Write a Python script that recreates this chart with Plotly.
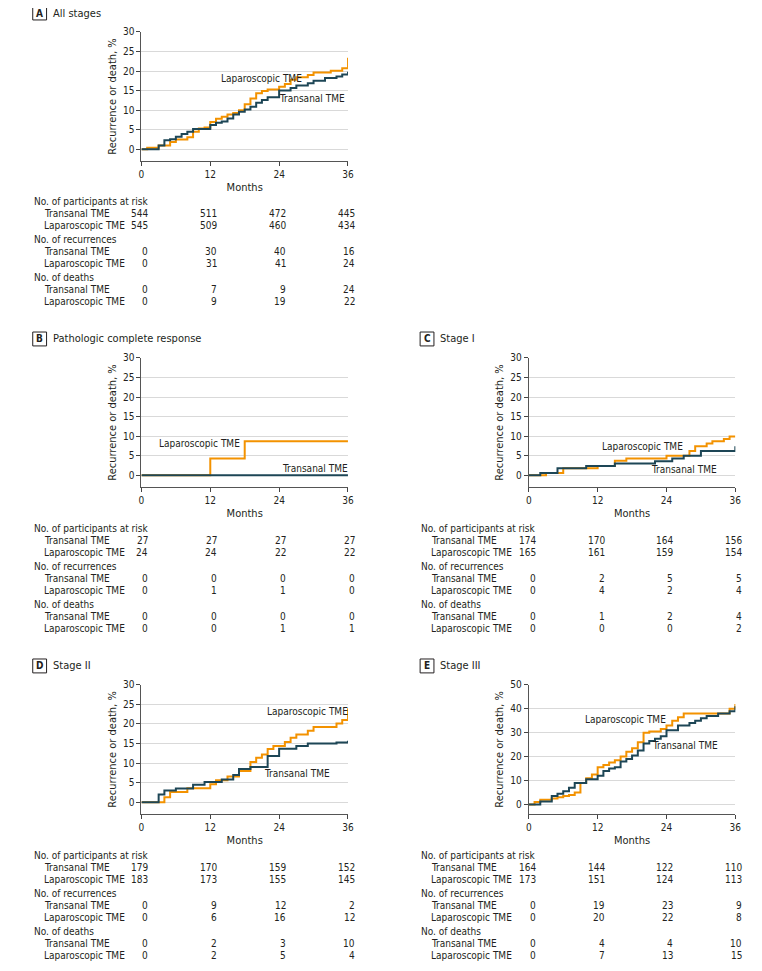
import plotly.graph_objects as go

W, H = 762, 971
ORANGE = "#F39200"
TEAL = "#1D4656"
FONT = "DejaVu Sans Condensed, Liberation Sans, sans-serif"

# step curves: months and cumulative % recurrence or death
a_trans_t = [0, 3, 4, 5, 6, 7, 8, 9, 12, 13, 14, 15, 16, 17, 18, 19, 20, 21, 22, 24, 26, 27, 29, 30, 32, 34, 35, 36]
a_trans_y = [0, 1, 2.3, 2.6, 3.2, 3.9, 4.5, 5.2, 6.2, 6.8, 7.1, 7.9, 8.9, 9.6, 10.2, 10.9, 11.9, 12.6, 13.3, 15, 15.7, 16.3, 16.9, 17.5, 18.2, 18.6, 19.1, 19.8]
a_lap_t = [0, 1, 3, 5, 6, 8, 9, 10, 11, 12, 13, 14, 15, 16, 17, 18, 19, 20, 21, 22, 24, 25, 26, 27, 29, 30, 33, 35, 36]
a_lap_y = [0, 0.4, 1, 1.9, 2.5, 3.1, 4.5, 5.3, 5.6, 7, 7.8, 8.3, 8.9, 9.3, 10, 11.5, 13, 14.3, 14.9, 15.3, 16, 16.7, 17.8, 18.4, 19, 19.6, 20.1, 20.7, 23.4]

b_trans_t = [0, 36]
b_trans_y = [0, 0]
b_lap_t = [0, 12, 18, 36]
b_lap_y = [0, 4.3, 8.7, 8.7]

c_trans_t = [0, 2, 5, 10, 15, 22, 25, 27, 30, 36]
c_trans_y = [0, 0.6, 1.8, 2.4, 3, 3.6, 4.3, 5, 6.2, 7.4]
c_lap_t = [0, 3, 6, 12, 15, 17, 24, 28, 29, 31, 32, 34, 35, 36]
c_lap_y = [0, 0.6, 1.8, 2.4, 3.7, 4.3, 5, 6.2, 7.4, 8.1, 8.7, 9.3, 9.9, 9.9]

d_trans_t = [0, 3, 4, 6, 9, 11, 14, 16, 17, 19, 22, 24, 27, 29, 34, 36]
d_trans_y = [0, 2, 3, 3.5, 4.5, 5.2, 5.8, 7, 8.5, 9, 11.8, 13.7, 14.4, 15, 15.3, 15.7]
d_lap_t = [0, 4, 5, 8, 12, 13, 15, 17, 19, 20, 21, 22, 23, 25, 26, 27, 29, 30, 34, 35, 36]
d_lap_y = [0, 1.3, 2.6, 3.6, 4.6, 5.6, 6.6, 8, 10.3, 11.4, 12.2, 13.6, 14.4, 15.4, 16.5, 17.3, 18.3, 19.2, 20.1, 21, 24]

e_trans_t = [0, 2, 4, 5, 6, 7, 8, 10, 12, 13, 14, 15, 16, 17, 18, 19, 20, 21, 22, 23, 24, 26, 28, 29, 30, 31, 33, 35, 36]
e_trans_y = [0, 1.2, 3.5, 4.5, 5.5, 7, 9, 10.5, 12, 14, 15, 15.5, 18, 19, 20.5, 22.5, 25.5, 26.5, 27.5, 28.5, 31, 33, 34, 35, 36, 37, 38, 39, 41]
e_lap_t = [0, 1, 2, 4, 5, 6, 7, 8, 9, 10, 11, 12, 13, 14, 15, 16, 17, 18, 19, 20, 21, 23, 24, 25, 26, 27, 35, 36]
e_lap_y = [0, 1, 2, 2.5, 3, 3.5, 4, 5, 9, 11, 12.5, 15.5, 16.5, 17.5, 18.5, 20, 22, 23.5, 26, 30, 30.5, 31.5, 33, 35, 36.5, 38, 40, 42]

# tables below each panel
a_risk = [[544, 511, 472, 445], [545, 509, 460, 434]]
a_rec = [[0, 30, 40, 16], [0, 31, 41, 24]]
a_death = [[0, 7, 9, 24], [0, 9, 19, 22]]
b_risk = [[27, 27, 27, 27], [24, 24, 22, 22]]
b_rec = [[0, 0, 0, 0], [0, 1, 1, 0]]
b_death = [[0, 0, 0, 0], [0, 0, 1, 1]]
c_risk = [[174, 170, 164, 156], [165, 161, 159, 154]]
c_rec = [[0, 2, 5, 5], [0, 4, 2, 4]]
c_death = [[0, 1, 2, 4], [0, 0, 0, 2]]
d_risk = [[179, 170, 159, 152], [183, 173, 155, 145]]
d_rec = [[0, 9, 12, 2], [0, 6, 16, 12]]
d_death = [[0, 2, 3, 10], [0, 2, 5, 4]]
e_risk = [[164, 144, 122, 110], [173, 151, 124, 113]]
e_rec = [[0, 19, 23, 9], [0, 20, 22, 8]]
e_death = [[0, 4, 4, 10], [0, 7, 13, 15]]

fig = go.Figure()
ann = []
shapes = []


def px(x):
    return (x - 7) / W


def py(y):
    return 1 - (y - 12) / H


def txt(x, y, s, anchor="left", size=10):
    ann.append(dict(x=px(x), y=py(y), xref="paper", yref="paper", text=s, showarrow=False,
                    xanchor=anchor, yanchor="middle", font=dict(family=FONT, size=size, color="#231F20")))


def panel(i, letter, title, x0, ytop, ybot, yrange, ydtick, trans, lap, labels, tables, tabletop):
    xa = "xaxis" if i == 1 else "xaxis%d" % i
    ya = "yaxis" if i == 1 else "yaxis%d" % i
    xr = "x" if i == 1 else "x%d" % i
    yr = "y" if i == 1 else "y%d" % i
    fig.add_trace(go.Scatter(x=lap[0], y=lap[1], mode="lines", line=dict(color=ORANGE, width=2, shape="hv"),
                             xaxis=xr, yaxis=yr, showlegend=False))
    fig.add_trace(go.Scatter(x=trans[0], y=trans[1], mode="lines", line=dict(color=TEAL, width=2, shape="hv"),
                             xaxis=xr, yaxis=yr, showlegend=False))
    fig.layout[xa] = dict(domain=[px(x0), px(x0 + 209)], range=[0, 36], tickvals=[0, 12, 24, 36],
                          showgrid=False, showline=True, linecolor="#555", ticks="outside", ticklen=4,
                          title=dict(text="Months", font=dict(size=11), standoff=4), anchor=yr, zeroline=False)
    fig.layout[ya] = dict(domain=[py(ybot), py(ytop)], range=yrange, dtick=ydtick, showgrid=True,
                          gridcolor="#D9D9D9", showline=True, linecolor="#555", ticks="outside", ticklen=4,
                          title=dict(text="Recurrence or death, %", font=dict(size=11), standoff=4),
                          anchor=xr, zeroline=False)
    # panel letter box and title
    bx, by = x0 - 110, ytop - 19
    shapes.append(dict(type="rect", xref="paper", yref="paper", x0=px(bx), x1=px(bx + 14),
                       y0=py(by + 7), y1=py(by - 7), line=dict(color="#231F20", width=1)))
    txt(bx + 7, by, "<b>" + letter + "</b>", "center", 10)
    txt(bx + 18, by, title, "left", 11)
    txt(labels[0][0], labels[0][1], "Laparoscopic TME", "center")
    txt(labels[1][0], labels[1][1], "Transanal TME", "center")
    heads = ["No. of participants at risk", "No. of recurrences", "No. of deaths"]
    y = tabletop
    for head, rows in zip(heads, tables):
        txt(bx - 1, y, head)
        for name, vals in zip(["Transanal TME", "Laparoscopic TME"], rows):
            y += 12
            txt(bx + 9, y, name)
            for k, v in enumerate(vals):
                txt(x0 + 9 + k * 69.7, y, str(v), "right")
        y += 14


panel(1, "A", "All stages", 139, 30, 160, [-3, 30], 5, (a_trans_t, a_trans_y), (a_lap_t, a_lap_y),
      [(260, 77), (312, 97)], [a_risk, a_rec, a_death], 201)
panel(2, "B", "Pathologic complete response", 139, 358, 488, [-3, 30], 5, (b_trans_t, b_trans_y),
      (b_lap_t, b_lap_y), [(198, 444), (315, 469)], [b_risk, b_rec, b_death], 530)
panel(3, "C", "Stage I", 531, 358, 488, [-3, 30], 5, (c_trans_t, c_trans_y), (c_lap_t, c_lap_y),
      [(646, 447), (688, 470)], [c_risk, c_rec, c_death], 530)
panel(4, "D", "Stage II", 139, 687, 817, [-3, 30], 5, (d_trans_t, d_trans_y), (d_lap_t, d_lap_y),
      [(307, 714), (296, 776)], [d_risk, d_rec, d_death], 859)
panel(5, "E", "Stage III", 531, 687, 817, [-4, 50], 10, (e_trans_t, e_trans_y), (e_lap_t, e_lap_y),
      [(629, 722), (689, 748)], [e_risk, e_rec, e_death], 859)

fig.update_layout(width=W, height=H, margin=dict(l=0, r=0, t=0, b=0), plot_bgcolor="white",
                  paper_bgcolor="white", font=dict(family=FONT, size=10, color="#231F20"),
                  annotations=ann, shapes=shapes)
fig.write_html("out.html")
